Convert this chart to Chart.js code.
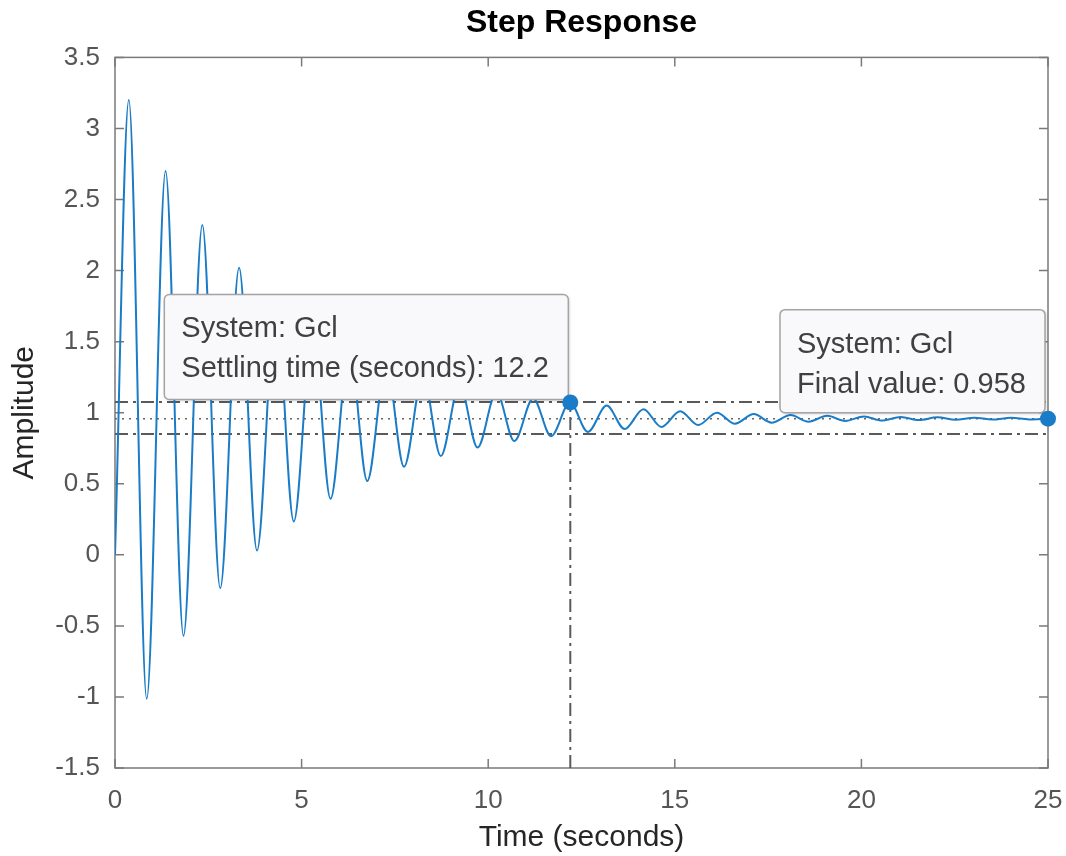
<!DOCTYPE html>
<html>
<head>
<meta charset="utf-8">
<title>Step Response</title>
<script src="https://cdn.jsdelivr.net/npm/chart.js@4.4.0/dist/chart.umd.min.js"></script>
<style>
    html, body { margin: 0; padding: 0; background: #fff; }
    #wrap { width: 1066px; height: 856px; }
</style>
</head>
<body>
<div id="wrap"><canvas id="stepChart" width="1066" height="856"></canvas></div>
<script>
// step response of Gcl (peaks and troughs)
const responseTime = [0, 0.37, 0.85, 1.355, 1.835, 2.34, 2.82, 3.325, 3.805, 4.31, 4.79,
    5.295, 5.775, 6.28, 6.76, 7.265, 7.745, 8.25, 8.73, 9.235, 9.715, 10.22, 10.70,
    11.205, 11.685, 12.19, 12.67, 13.175, 13.655, 14.16, 14.64, 15.145, 15.625, 16.13,
    16.61, 17.115, 17.595, 18.10, 18.58, 19.085, 19.565, 20.07, 20.55, 21.055, 21.535,
    22.04, 22.52, 23.025, 23.505, 24.01, 24.49, 25];
const responseAmp = [0, 3.20, -1.013, 2.70, -0.57, 2.32, -0.235, 2.02, 0.03, 1.79, 0.235,
    1.61, 0.395, 1.46, 0.52, 1.35, 0.62, 1.265, 0.695, 1.20, 0.755, 1.145, 0.80,
    1.10, 0.835, 1.072, 0.865, 1.05, 0.885, 1.025, 0.90, 1.01, 0.913, 1.0,
    0.923, 0.99, 0.93, 0.984, 0.937, 0.978, 0.942, 0.974, 0.945, 0.97, 0.948,
    0.968, 0.951, 0.965, 0.952, 0.964, 0.953, 0.958];

const settleTime = 12.2;
const settleAmp = 1.072;
const finalTime = 25;
const finalValue = 0.958;
const upperBound = 1.075;
const lowerBound = 0.85;

const xRange = [0, 25];
const yRange = [-1.5, 3.5];

const settleLines = ['System: Gcl', `Settling time (seconds): ${settleTime}`];
const finalLines = ['System: Gcl', `Final value: ${finalValue}`];

const blue = '#1a7cc7';
const fontFamily = '"Liberation Sans", Arial, Helvetica, sans-serif';

function drawTip(ctx, right, bottom, w, h, lines) {
    const left = right - w;
    const top = bottom - h;
    ctx.save();
    ctx.shadowColor = 'rgba(0,0,0,0.22)';
    ctx.shadowBlur = 3;
    ctx.shadowOffsetX = 1;
    ctx.shadowOffsetY = 1;
    ctx.beginPath();
    ctx.roundRect(left, top, w, h, 5);
    ctx.fillStyle = '#f9f9fc';
    ctx.fill();
    ctx.shadowColor = 'transparent';
    ctx.strokeStyle = '#a4a4a4';
    ctx.lineWidth = 1.5;
    ctx.stroke();
    ctx.fillStyle = '#404040';
    ctx.font = '29px ' + fontFamily;
    ctx.textBaseline = 'alphabetic';
    lines.forEach((s, i) => ctx.fillText(s, left + 17, top + 43 + i * 40));
    ctx.restore();
}

const matlabAxes = {
    id: 'matlabAxes',
    beforeDatasetsDraw(chart) {
        const { ctx, chartArea: a, scales: { x, y } } = chart;
        ctx.save();
        ctx.strokeStyle = '#7a7a7a';
        ctx.lineWidth = 1.5;
        ctx.strokeRect(a.left, a.top, a.right - a.left, a.bottom - a.top);
        ctx.beginPath();
        x.ticks.forEach((t) => {
            const px = x.getPixelForValue(t.value);
            ctx.moveTo(px, a.bottom); ctx.lineTo(px, a.bottom - 9);
            ctx.moveTo(px, a.top); ctx.lineTo(px, a.top + 9);
        });
        y.ticks.forEach((t) => {
            const py = y.getPixelForValue(t.value);
            ctx.moveTo(a.left, py); ctx.lineTo(a.left + 9, py);
            ctx.moveTo(a.right, py); ctx.lineTo(a.right - 9, py);
        });
        ctx.stroke();
        ctx.restore();
    },
    beforeDatasetDraw(chart, args) {
        if (args.index !== 0) return;
        const { ctx, scales: { x, y } } = chart;
        drawTip(ctx, x.getPixelForValue(settleTime) - 2, y.getPixelForValue(settleAmp) - 3, 404, 105, settleLines);
        drawTip(ctx, x.getPixelForValue(finalTime) - 3, y.getPixelForValue(finalValue) - 6, 265, 103, finalLines);
    }
};

const refLine = (pts, dash, width, color) => ({
    data: pts,
    borderColor: color,
    borderWidth: width,
    borderDash: dash,
    pointRadius: 0,
    fill: false,
    order: 2
});

new Chart(document.getElementById('stepChart'), {
    type: 'line',
    data: {
        datasets: [
            {
                label: 'characteristics',
                data: [{ x: settleTime, y: settleAmp }, { x: finalTime, y: finalValue }],
                showLine: false,
                pointRadius: 8,
                pointBackgroundColor: blue,
                pointBorderWidth: 0,
                clip: false,
                order: 0
            },
            {
                label: 'Gcl',
                data: responseTime.map((t, i) => ({ x: t, y: responseAmp[i] })),
                borderColor: blue,
                borderWidth: 2,
                pointRadius: 0,
                cubicInterpolationMode: 'monotone',
                order: 1
            },
            refLine([{ x: xRange[0], y: upperBound }, { x: xRange[1], y: upperBound }], [13, 5, 3, 5], 2, '#5a5a5a'),
            refLine([{ x: xRange[0], y: lowerBound }, { x: xRange[1], y: lowerBound }], [13, 5, 3, 5], 2, '#5a5a5a'),
            refLine([{ x: xRange[0], y: finalValue }, { x: xRange[1], y: finalValue }], [2, 5], 1.5, '#666666'),
            refLine([{ x: settleTime, y: yRange[0] }, { x: settleTime, y: settleAmp }], [13, 5, 3, 5], 2, '#5a5a5a')
        ]
    },
    options: {
        responsive: false,
        animation: false,
        layout: { padding: { left: 0, right: 18, top: 0, bottom: 0 } },
        plugins: {
            legend: { display: false },
            tooltip: { enabled: false },
            title: {
                display: true,
                text: 'Step Response',
                fullSize: false,
                color: '#000',
                font: { family: fontFamily, size: 32, weight: 'bold' },
                padding: { top: 4, bottom: 15 }
            }
        },
        scales: {
            x: {
                type: 'linear',
                min: xRange[0],
                max: xRange[1],
                afterFit: (s) => {
                    s.height = 88;
                    s.paddingLeft = 0;
                    s.paddingRight = 0;
                },
                grid: { display: false, drawTicks: false },
                border: { display: false },
                ticks: { stepSize: 5, padding: 17, color: '#555', font: { family: fontFamily, size: 26 } },
                title: {
                    display: true,
                    text: 'Time (seconds)',
                    color: '#262626',
                    font: { family: fontFamily, size: 30 },
                    padding: { top: 0, bottom: 0 }
                }
            },
            y: {
                min: yRange[0],
                max: yRange[1],
                afterFit: (s) => { s.width = 115; },
                grid: { display: false, drawTicks: false },
                border: { display: false },
                ticks: {
                    stepSize: 0.5,
                    padding: 15,
                    color: '#555',
                    font: { family: fontFamily, size: 26 },
                    callback: (v) => String(Number(v.toFixed(1)))
                },
                title: {
                    display: true,
                    text: 'Amplitude',
                    color: '#262626',
                    font: { family: fontFamily, size: 30 },
                    padding: { top: 7, bottom: 0 }
                }
            }
        }
    },
    plugins: [matlabAxes]
});
</script>
</body>
</html>
